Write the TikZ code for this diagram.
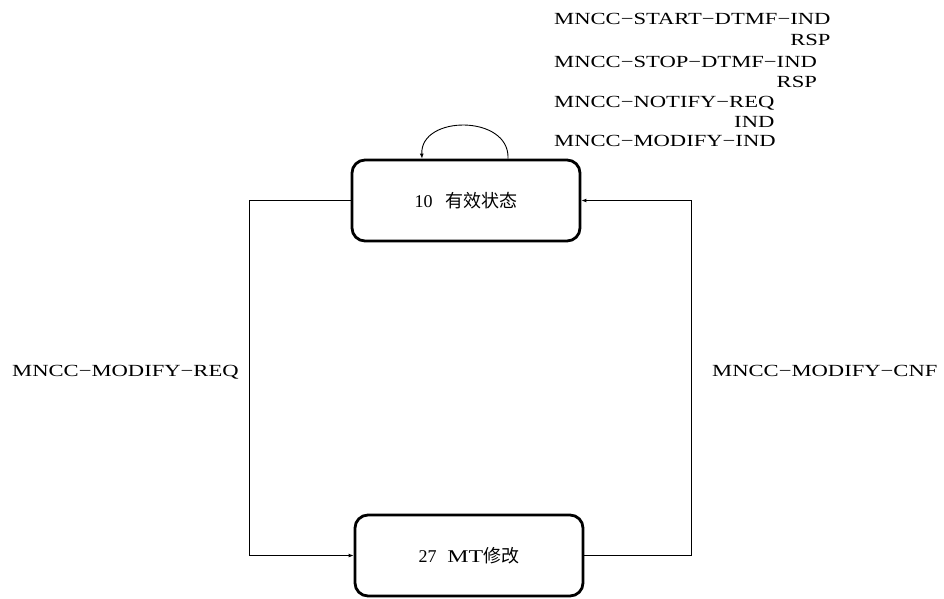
\documentclass[tikz,border=0pt]{standalone}
\usepackage{fontspec}
\setmainfont{Liberation Serif}
\newfontfamily\cjk{Noto Sans CJK SC}
\newfontfamily\lblfont[FakeStretch=1.33]{Liberation Serif}
\usetikzlibrary{arrows.meta}
\begin{document}
\begin{tikzpicture}[x=1pt,y=-1pt,
  state/.style={draw, line width=2.8pt, rounded corners=13pt, minimum width=228pt, minimum height=81pt, font=\fontsize{18}{21}\selectfont, inner sep=0pt},
  lbl/.style={font=\lblfont\fontsize{17}{20}\selectfont, inner sep=0pt},
  conn/.style={line width=0.9pt, -{Latex[length=5pt,width=4pt]}}
]
\useasboundingbox (0,0) rectangle (944,598);
\node[state] (top) at (466,200.5) {10\hspace{0.7em}{\cjk 有效状态}};
\node[state] (bot) at (469,555.5) {27\hspace{0.6em}{\lblfont MT}{\cjk 修改}};
\coordinate (L) at (249,0);
\coordinate (R) at (691,0);
\draw[conn] (top.west) -- (top.west -| L) -- (bot.west -| L) -- (bot.west);
\draw[conn] (bot.east) -- (bot.east -| R) -- (top.east -| R) -- (top.east);
\draw[conn] ([xshift=42pt]top.north) .. controls ([xshift=44pt,yshift=44pt]top.north) and ([xshift=-46pt,yshift=44pt]top.north) .. ([xshift=-44pt]top.north);
\node[lbl, anchor=base west] (m1) at (554,24) {MNCC−START−DTMF−IND};
\node[lbl, anchor=base east] (m2) at (m1.base east |- 0,45) {RSP};
\node[lbl, anchor=base west] (m3) at (554,67) {MNCC−STOP−DTMF−IND};
\node[lbl, anchor=base east] (m4) at (m3.base east |- 0,87) {RSP};
\node[lbl, anchor=base west] (m5) at (554,107) {MNCC−NOTIFY−REQ};
\node[lbl, anchor=base east] (m6) at (m5.base east |- 0,127) {IND};
\node[lbl, anchor=base west] (m7) at (554,146) {MNCC−MODIFY−IND};
\node[lbl, anchor=base west] (lreq) at (12,376) {MNCC−MODIFY−REQ};
\node[lbl, anchor=base west] (rcnf) at (712,376) {MNCC−MODIFY−CNF};
\end{tikzpicture}
\end{document}
